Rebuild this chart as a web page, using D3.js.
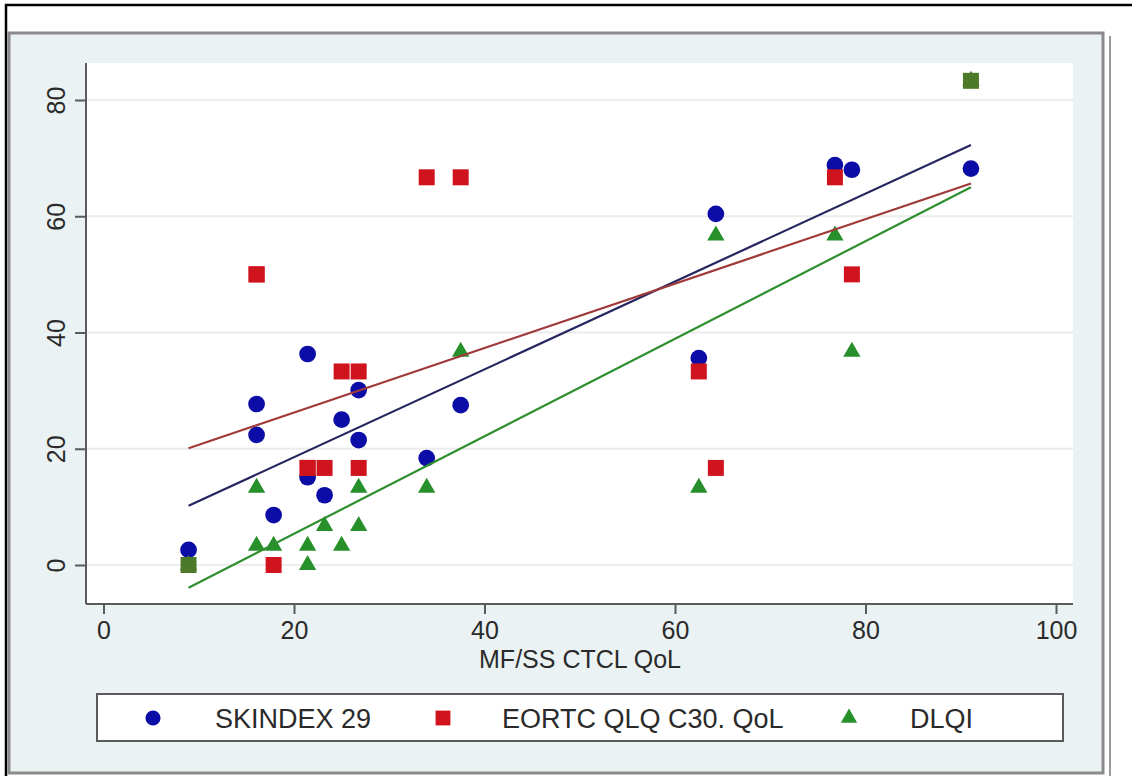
<!DOCTYPE html>
<html>
<head>
<meta charset="utf-8">
<script src="https://cdn.jsdelivr.net/npm/d3@7"></script>
<style>
  html, body { margin: 0; padding: 0; background: #ffffff; }
  svg { display: block; font-family: "Liberation Sans", Arial, sans-serif; }
</style>
</head>
<body>
<svg id="chart" width="1132" height="776"></svg>
<script>
// MF/SS CTCL QoL score for each patient (x)
const ctclQol   = [8.93, 16.07, 16.07, 17.86, 21.43, 21.43, 23.21, 25.0, 26.79, 26.79, 33.93, 37.5, 62.5, 64.29, 76.79, 78.57, 91.07];
// Comparison instruments, same patient order (y)
const skindex29 = [2.6, 27.7, 22.4, 8.6, 36.3, 15.1, 12.0, 25.0, 30.1, 21.5, 18.4, 27.5, 35.6, 60.4, 68.8, 68.0, 68.2];
const eortcQol  = [0, 50, 50, 0, 16.7, 16.7, 16.7, 33.3, 33.3, 16.7, 66.7, 66.7, 33.3, 16.7, 66.7, 50, 83.3];
const dlqi      = [0, 13.3, 3.3, 3.3, 3.3, 0, 6.7, 3.3, 13.3, 6.7, 13.3, 36.7, 13.3, 56.7, 56.7, 36.7, 83.3];

const seriesNames = ["SKINDEX 29", "EORTC QLQ C30. QoL", "DLQI"];
const xTicks = [0, 20, 40, 60, 80, 100];
const yTicks = [0, 20, 40, 60, 80];
const xTitle = "MF/SS CTCL QoL";

const series = [
  { name: seriesNames[0], values: skindex29, symbol: d3.symbolCircle,   size: 220, color: "#0c0ca6", line: "#25255f" },
  { name: seriesNames[1], values: eortcQol,  symbol: d3.symbolSquare,   size: 256, color: "#d0141e", line: "#a03a3a" },
  { name: seriesNames[2], values: dlqi,      symbol: d3.symbolTriangle, size: 130, color: "#27902a", line: "#2f8f2f" }
];
const overlapColor = "#4d7a2a";

const svg = d3.select("#chart");

// Outer figure border
svg.append("path")
  .attr("d", "M6,776 L6,5 L1132,5")
  .attr("fill", "none").attr("stroke", "#000").attr("stroke-width", 2.5);

// Graph region
svg.append("rect").attr("x", 9).attr("y", 33).attr("width", 1094).attr("height", 740)
  .attr("fill", "#eaf2f3").attr("stroke", "#8a8a8a").attr("stroke-width", 3);
svg.append("line").attr("x1", 1110).attr("x2", 1110).attr("y1", 36).attr("y2", 776)
  .attr("stroke", "#9a9a9a").attr("stroke-width", 2);

// Plot region
const plot = { left: 86, right: 1073, top: 63, bottom: 604 };
svg.append("rect").attr("x", plot.left).attr("y", plot.top)
  .attr("width", plot.right - plot.left).attr("height", plot.bottom - plot.top)
  .attr("fill", "#ffffff");

const x = d3.scaleLinear().domain([0, 100]).range([103.5, 1056]);
const y = d3.scaleLinear().domain([0, 80]).range([565, 100]);

// Horizontal grid lines
svg.append("g").selectAll("line").data(yTicks).join("line")
  .attr("x1", plot.left).attr("x2", plot.right)
  .attr("y1", d => y(d)).attr("y2", d => y(d))
  .attr("stroke", "#ececec").attr("stroke-width", 2);

// Axes
const xAxis = svg.append("g").attr("transform", `translate(0,${plot.bottom})`)
  .call(d3.axisBottom(x).tickValues(xTicks).tickSize(10).tickPadding(7).tickFormat(d3.format("d")));
xAxis.select(".domain").attr("d", `M${plot.left},0H${plot.right}`);

const yAxis = svg.append("g").attr("transform", `translate(${plot.left},0)`)
  .call(d3.axisLeft(y).tickValues(yTicks).tickSize(11).tickPadding(8).tickFormat(d3.format("d")));
yAxis.select(".domain").attr("d", `M0,${plot.top}V${plot.bottom}`);

[xAxis, yAxis].forEach(g => {
  g.select(".domain").attr("stroke", "#5a5a5a").attr("stroke-width", 2);
  g.selectAll(".tick line").attr("stroke", "#5a5a5a").attr("stroke-width", 2);
  g.selectAll(".tick text").attr("fill", "#2a2a2a")
    .style("font-size", "25px").style("font-family", "'Liberation Sans', Arial, sans-serif");
});
xAxis.selectAll(".tick text").attr("dy", "0.71em");
yAxis.selectAll(".tick text")
  .attr("text-anchor", "middle")
  .attr("x", null).attr("dy", null)
  .attr("transform", "translate(-21,0) rotate(-90)");

// Axis title
svg.append("text").attr("x", 580).attr("y", 668).attr("text-anchor", "middle")
  .attr("fill", "#2a2a2a").style("font-size", "25px").text(xTitle);

// Markers; a square that shares its point with a triangle is drawn in the blended colour
series.forEach((s, si) => {
  const pts = ctclQol.map((cx, i) => {
    let fill = s.color;
    if (si >= 1) {
      const other = si === 1 ? dlqi : eortcQol;
      if (other[i] === s.values[i]) fill = overlapColor;
    }
    return { cx, cy: s.values[i], fill };
  });
  svg.append("g").selectAll("path").data(pts).join("path")
    .attr("transform", d => `translate(${x(d.cx)},${y(d.cy)})`)
    .attr("d", d3.symbol(s.symbol, s.size))
    .attr("fill", d => d.fill);
});

// Least-squares fit lines over the observed x range
const xExt = d3.extent(ctclQol);
series.forEach(s => {
  const mx = d3.mean(ctclQol), my = d3.mean(s.values);
  const sxy = d3.sum(ctclQol, (v, i) => (v - mx) * (s.values[i] - my));
  const sxx = d3.sum(ctclQol, v => (v - mx) * (v - mx));
  const b = sxy / sxx, a = my - b * mx;
  svg.append("path")
    .datum(xExt.map(v => [v, a + b * v]))
    .attr("d", d3.line().x(d => x(d[0])).y(d => y(d[1])))
    .attr("fill", "none").attr("stroke", s.line).attr("stroke-width", 2.2);
});

// Legend
const legend = svg.append("g");
legend.append("rect").attr("x", 97).attr("y", 694).attr("width", 966).attr("height", 47)
  .attr("fill", "#ffffff").attr("stroke", "#5a5a5a").attr("stroke-width", 2);
const legendPos = [{ mx: 153, tx: 215 }, { mx: 443, tx: 502 }, { mx: 849, tx: 910 }];
const legendSizes = [180, 220, 115];
series.forEach((s, i) => {
  legend.append("path")
    .attr("transform", `translate(${legendPos[i].mx},718)`)
    .attr("d", d3.symbol(s.symbol, legendSizes[i]))
    .attr("fill", s.color);
  legend.append("text").attr("x", legendPos[i].tx).attr("y", 728)
    .attr("fill", "#2a2a2a").style("font-size", "27px").text(s.name);
});
</script>
</body>
</html>
